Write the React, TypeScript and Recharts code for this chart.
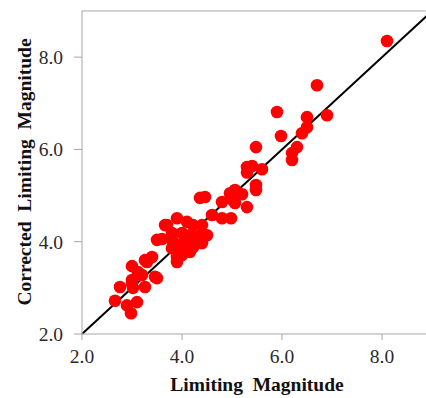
import { ScatterChart, Scatter, XAxis, YAxis, ReferenceLine, Label } from "recharts";

// Limiting magnitude (x) vs corrected limiting magnitude (y)
const limiting = [
  2.66, 2.9, 3.1, 2.98, 2.76, 3.0, 3.02, 3.26, 3.0, 3.0,
  3.12, 3.2, 3.5, 3.46, 3.3, 3.26, 3.4, 3.5, 3.6, 3.7,
  3.66, 3.9, 3.9, 3.82, 3.82, 4.02, 4.16, 3.92, 4.0, 4.22,
  4.1, 3.8, 4.02, 4.3, 4.4, 3.8, 4.0, 4.16, 4.36, 4.5,
  3.9, 4.1, 4.22, 4.4, 4.36, 4.46, 4.6, 4.8, 4.98, 4.8,
  4.96, 5.1, 5.06, 5.02, 5.2, 5.06, 5.3, 5.48, 5.48, 5.3,
  5.4, 5.6, 5.3, 5.48, 5.9, 5.98, 6.2, 6.2, 6.3, 6.4,
  6.5, 6.5, 6.9, 6.7, 8.1,
];
const corrected = [
  2.72, 2.62, 2.69, 2.45, 3.02, 3.1, 3.0, 3.02, 3.17, 3.47,
  3.34, 3.28, 3.21, 3.24, 3.56, 3.6, 3.67, 4.04, 4.06, 4.36,
  4.36, 3.56, 3.67, 3.97, 4.0, 3.82, 3.78, 3.78, 3.71, 3.88,
  4.1, 3.86, 3.97, 4.0, 3.97, 4.19, 4.19, 4.14, 4.14, 4.14,
  4.51, 4.43, 4.36, 4.36, 4.95, 4.97, 4.58, 4.51, 4.51, 4.86,
  5.05, 5.05, 4.84, 4.9, 5.03, 5.12, 4.75, 5.23, 5.12, 5.62,
  5.64, 5.57, 5.5, 6.05, 6.81, 6.29, 5.92, 5.77, 6.05, 6.35,
  6.48, 6.7, 6.74, 7.39, 8.35,
];
const ticks = [2, 4, 6, 8];

const points = limiting.map((x, i) => ({ x, y: corrected[i] }));

const font = "Liberation Serif";
const axisGrey = "#a6a6a6";
const sp = "\u00a0\u00a0";

export default function App() {
  return (
    <div style={{ position: "absolute", left: 0, top: 0, width: 426, height: 398, overflow: "hidden", background: "#fff", fontFamily: font }}>
      <ScatterChart width={432} height={398} margin={{ top: 11, right: 0, left: 0, bottom: 0 }}>
        <XAxis
          type="number"
          dataKey="x"
          domain={[2, 9]}
          ticks={ticks}
          tickFormatter={(v: number) => v.toFixed(1)}
          height={64}
          stroke={axisGrey}
          tickSize={6}
          tickMargin={9}
          tick={{ fill: "#2a2a2a", fontSize: 19.5, fontFamily: font }}
        >
          <Label
            content={() => (
              <text x={257} y={391} textAnchor="middle" style={{ fontFamily: font }} fontWeight="bold" fontSize={19.5} fill="#111">
                {"Limiting" + sp + "Magnitude"}
              </text>
            )}
          />
        </XAxis>
        <YAxis
          type="number"
          dataKey="y"
          domain={[2, 9]}
          ticks={ticks}
          tickFormatter={(v: number) => v.toFixed(1)}
          width={82}
          stroke={axisGrey}
          tickSize={8}
          tickMargin={11}
          tick={{ fill: "#2a2a2a", fontSize: 19.5, fontFamily: font }}
        >
          <Label
            content={() => (
              <text x={31} y={172} transform="rotate(-90 31 172)" textAnchor="middle" style={{ fontFamily: font }} fontWeight="bold" fontSize={19.5} fill="#111">
                {"Corrected" + sp + "Limiting" + sp + "Magnitude"}
              </text>
            )}
          />
        </YAxis>
        <ReferenceLine y={9} stroke={axisGrey} />
        <ReferenceLine x={9} stroke={axisGrey} />
        <ReferenceLine segment={[{ x: 2, y: 2 }, { x: 9, y: 9 }]} stroke="#000" strokeWidth={2} />
        <Scatter
          data={points}
          isAnimationActive={false}
          shape={(p: any) => <circle cx={p.cx} cy={p.cy} r={6.3} fill="#ff0000" />}
        />
      </ScatterChart>
    </div>
  );
}
